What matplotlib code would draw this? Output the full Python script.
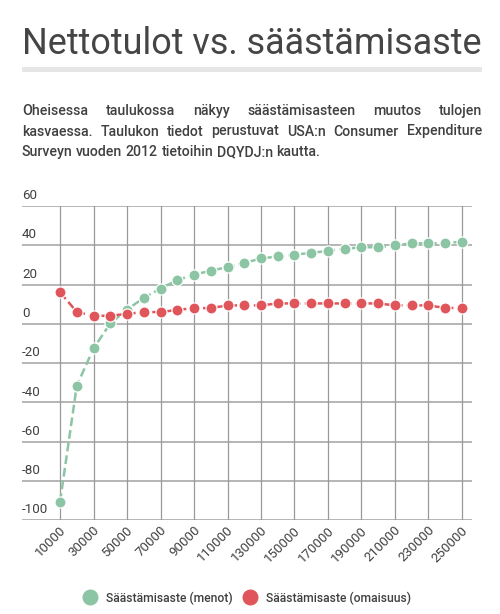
import matplotlib
matplotlib.use("Agg")
import matplotlib.pyplot as plt
from matplotlib.lines import Line2D
from matplotlib.transforms import blended_transform_factory

plt.rcParams['font.family'] = ['Roboto', 'DejaVu Sans']

income = [10000, 20000, 30000, 40000, 50000, 60000, 70000, 80000, 90000, 100000,
          110000, 120000, 130000, 140000, 150000, 160000, 170000, 180000, 190000, 200000,
          210000, 220000, 230000, 240000, 250000]
saving_spend = [-90.6, -31.5, -12.5, 0.2, 7.3, 13.2, 18.0, 22.2, 25.1, 27.0,
                28.9, 31.0, 33.3, 34.3, 35.3, 36.1, 37.2, 38.2, 39.0, 39.0,
                40.0, 41.0, 41.0, 41.0, 41.9]
saving_assets = [16.1, 6.1, 4.1, 4.1, 5.1, 6.0, 6.0, 7.1, 8.0, 8.0,
                 9.4, 9.4, 9.4, 10.4, 10.4, 10.4, 10.4, 10.4, 10.4, 10.4,
                 9.4, 9.4, 9.4, 8.1, 8.1]
x_ticks = list(range(10000, 250001, 20000))
y_ticks = [-100, -80, -60, -40, -20, 0, 20, 40, 60]
series_names = ["Säästämisaste (menot)", "Säästämisaste (omaisuus)"]
title = "Nettotulot vs. säästämisaste"
para_lines = [
    "Oheisessa taulukossa näkyy säästämisasteen muutos tulojen",
    "kasvaessa. Taulukon tiedot perustuvat USA:n Consumer Expenditure",
    "Surveyn vuoden 2012 tietoihin DQYDJ:n kautta.",
]

GREEN = "#8cc5a3"
RED = "#e0555a"
TXT = "#404040"

W, H = 500, 614
fig = plt.figure(figsize=(W / 100, H / 100), dpi=100)
fig.patch.set_facecolor("white")
renderer = fig.canvas.get_renderer()

def fx(px):
    return px / W

def fy(py):
    return 1 - py / H

def fit_size(txt, size, target_w):
    w = txt.get_window_extent(renderer).width
    txt.set_fontsize(size * target_w / w)

# Title
t = fig.text(fx(22), fy(53.5), title, fontsize=26, color="#454545",
             ha='left', va='baseline')
fit_size(t, 26, 459)
# gray rule
fig.patches.append(plt.Rectangle((fx(22), fy(71.5)), fx(482) - fx(22), 5 / H,
                                 transform=fig.transFigure, color="#e6e6e6", lw=0))

# Paragraph font size from first word width
PW = 'medium'
probe = fig.text(0, 0, "Oheisessa", fontsize=10, fontweight=PW)
pw = probe.get_window_extent(renderer).width
probe.remove()
psize = 10 * 65.6 / pw

baselines = [115, 135.5, 156]
left_px, right_px = 22, 482
for i, (line, by) in enumerate(zip(para_lines, baselines)):
    words = line.split(" ")
    texts = [fig.text(0, fy(by), w, fontsize=psize, color=TXT, fontweight=PW,
                      ha='left', va='baseline') for w in words]
    widths = [tt.get_window_extent(renderer).width for tt in texts]
    if i < len(para_lines) - 1:
        gap = (right_px - left_px - sum(widths)) / (len(words) - 1)
    else:
        sp = fig.text(0, 0, "a a", fontsize=psize, fontweight=PW)
        sp2 = fig.text(0, 0, "aa", fontsize=psize, fontweight=PW)
        gap = sp.get_window_extent(renderer).width - sp2.get_window_extent(renderer).width
        sp.remove(); sp2.remove()
    x = left_px
    for tt, wdt in zip(texts, widths):
        tt.set_x(fx(x))
        x += wdt + gap

# Axes
left, right, top, bottom = 22, 471.7, 206, 520.3
ax = fig.add_axes([fx(left), fy(bottom), fx(right) - fx(left), (bottom - top) / H])
ax.set_xlim(-12700, 255800)
ax.set_ylim(-100, 60)
for s in ax.spines.values():
    s.set_visible(False)
ax.set_xticks([])
ax.set_yticks([])

for yv in y_ticks:
    ax.axhline(yv, color="#b0b0b0", lw=1.3, zorder=1)
for xv in x_ticks:
    ax.axvline(xv, color="#999999", lw=0.9, zorder=1)

dash = (0, (3.5, 1.6))
ax.plot(income, saving_spend, color=GREEN, lw=1.8, ls=dash, zorder=3)
ax.plot(income, saving_spend, ls='none', marker='o', ms=8, mfc=GREEN,
        mec='white', mew=0.9, zorder=4)
ax.plot(income, saving_assets, color=RED, lw=1.8, ls=dash, zorder=3)
ax.plot(income, saving_assets, ls='none', marker='o', ms=8, mfc=RED,
        mec='white', mew=0.9, zorder=4)

trans = blended_transform_factory(ax.transAxes, ax.transData)
for yv in y_ticks:
    ax.text(0, yv + 2.0, str(yv), transform=trans, fontsize=9.6, color=TXT,
            ha='left', va='bottom')

for xv in x_ticks:
    ax.annotate(str(xv), xy=(xv, -100), xycoords='data', xytext=(4, -8),
                textcoords='offset pixels', rotation=45, rotation_mode='anchor',
                ha='right', va='center', fontsize=9.5, color=TXT)

# Legend (manual)
leg_y = 597
probe = fig.text(0, 0, series_names[0], fontsize=10, fontweight=PW)
lw_ = probe.get_window_extent(renderer).width
probe.remove()
lsize = 10 * 127 / lw_
for cx, tx, col, name in [(90, 106, GREEN, series_names[0]), (250, 266, RED, series_names[1])]:
    fig.add_artist(Line2D([fx(cx)], [fy(leg_y)], transform=fig.transFigure, ls='none',
                          marker='o', ms=10.5, mfc=col, mec=col))
    fig.text(fx(tx), fy(leg_y), name, fontsize=lsize, color=TXT, fontweight=PW,
             ha='left', va='center_baseline')

fig.savefig("out.png", dpi=100)
